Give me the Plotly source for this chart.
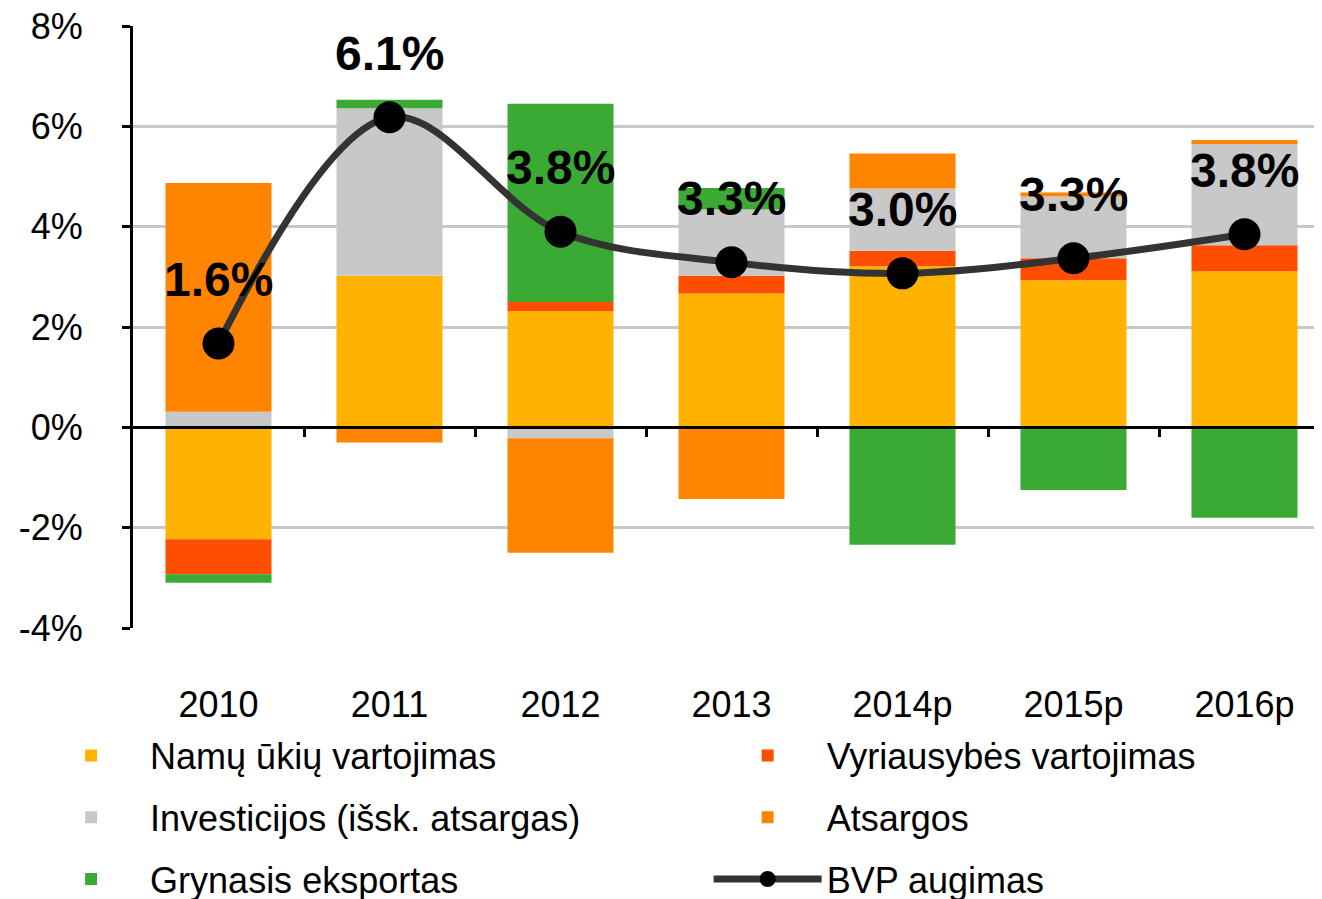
import plotly.graph_objects as go

categories = ["2010", "2011", "2012", "2013", "2014p", "2015p", "2016p"]

namu_vartojimas = [-2.23, 3.02, 2.32, 2.67, 3.21, 2.93, 3.11]
vyriausybes_vartojimas = [-0.70, 0.0, 0.18, 0.35, 0.31, 0.44, 0.52]
investicijos = [0.31, 3.34, -0.22, 1.32, 1.24, 1.23, 2.02]
atsargos = [4.56, -0.30, -2.28, -1.43, 0.70, 0.08, 0.08]
grynasis_eksportas = [-0.17, 0.17, 3.95, 0.43, -2.34, -1.25, -1.80]

bvp_augimas = [1.67, 6.18, 3.90, 3.29, 3.07, 3.37, 3.85]
bvp_labels = ["1.6%", "6.1%", "3.8%", "3.3%", "3.0%", "3.3%", "3.8%"]

y_ticks = [-4, -2, 0, 2, 4, 6, 8]

FONT = "Liberation Sans, Arial, sans-serif"

# (name, values, colour, legend column)
series = [
    ("Namų ūkių vartojimas", namu_vartojimas, "#FFB300", "legend"),
    ("Vyriausybės vartojimas", vyriausybes_vartojimas, "#FF4E00", "legend2"),
    ("Investicijos (išsk. atsargas)", investicijos, "#C8C8C8", "legend"),
    ("Atsargos", atsargos, "#FF8400", "legend2"),
    ("Grynasis eksportas", grynasis_eksportas, "#3AAA35", "legend"),
]

fig = go.Figure()
for name, vals, color, lg in series:
    fig.add_trace(go.Bar(
        x=categories, y=vals, name=name,
        legend=lg, legendgroup=name,
        marker=dict(color=color, line=dict(width=0)),
    ))

fig.add_trace(go.Scatter(
    x=categories, y=bvp_augimas, name="BVP augimas",
    legend="legend2", legendgroup="BVP augimas",
    mode="lines+markers",
    line=dict(color="#333333", width=7, shape="spline", smoothing=1.0),
    marker=dict(color="#000000", size=32),
))

# axis at zero with boundary ticks (drawn above bars)
fig.add_trace(go.Scatter(x=[], y=[], xaxis="x2", showlegend=False, hoverinfo="skip"))

for i, (v, t) in enumerate(zip(bvp_augimas, bvp_labels)):
    fig.add_annotation(
        x=i, y=v, text=t, showarrow=False, yshift=64,
        font=dict(family=FONT, size=48, color="#000000", weight="bold"),
    )

legend_common = dict(
    orientation="v",
    yanchor="top", xanchor="left",
    itemwidth=108,
    tracegroupgap=12,
    font=dict(family=FONT, size=36, color="#000000"),
    traceorder="grouped",
    bgcolor="rgba(0,0,0,0)",
)

fig.update_layout(
    width=1322, height=899,
    barmode="relative",
    bargap=0.38,
    plot_bgcolor="white",
    paper_bgcolor="white",
    margin=dict(l=125, r=0, t=18, b=279, autoexpand=False),
    font=dict(family=FONT, size=36, color="#000000"),
    showlegend=True,
    legend=dict(x=-0.0843, y=-0.162, **legend_common),
    legend2=dict(x=0.4809, y=-0.162, **legend_common),
    xaxis=dict(
        type="category",
        range=[-0.5, 6.5],
        showline=False, showgrid=False, zeroline=False,
        ticks="",
        ticklabelstandoff=52,
        tickfont=dict(family=FONT, size=36, color="#000000"),
    ),
    xaxis2=dict(
        overlaying="x",
        anchor="free",
        position=1/3,
        type="linear",
        range=[-0.5, 6.5],
        tickvals=[0.5, 1.5, 2.5, 3.5, 4.5, 5.5],
        ticks="outside", ticklen=8, tickwidth=3, tickcolor="#000000",
        showticklabels=False,
        showline=True, linecolor="#000000", linewidth=3,
        showgrid=False, zeroline=False,
        layer="above traces",
    ),
    yaxis=dict(
        range=[-4, 8],
        tickvals=y_ticks,
        ticktext=[f"{v}%" for v in y_ticks],
        showgrid=True, gridcolor="#C8C8C8", gridwidth=3,
        zeroline=False,
        showline=True, linecolor="#000000", linewidth=3,
        ticks="outside", ticklen=8, tickwidth=3, tickcolor="#000000",
        ticklabelstandoff=32,
        ticklabeloverflow="allow",
        tickfont=dict(family=FONT, size=36, color="#000000"),
    ),
)

fig.write_html("out.html")
